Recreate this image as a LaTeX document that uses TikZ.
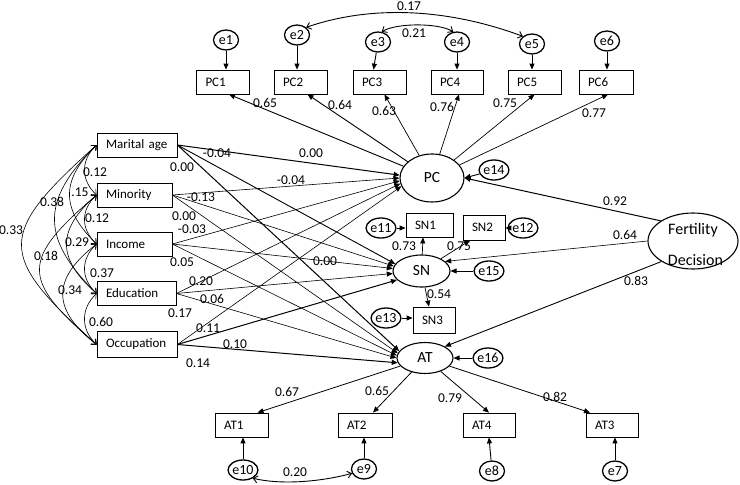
\documentclass[tikz,border=0pt]{standalone}
\usepackage{fontspec}
\setmainfont{Carlito}
\usetikzlibrary{arrows.meta,shapes.geometric,calc}
\begin{document}
\begin{tikzpicture}[x=1pt,y=-1pt,
  obs/.style={draw,line width=0.8pt,rectangle,minimum height=24pt,inner xsep=9pt,inner ysep=0pt,align=left,font=\fontsize{13}{15}\selectfont},
  lat/.style={draw,line width=1.1pt,ellipse,inner sep=0pt,font=\fontsize{15.5}{18}\selectfont},
  err/.style={draw,line width=1.3pt,ellipse,minimum width=25pt,minimum height=20pt,inner sep=0pt,font=\fontsize{14}{16}\selectfont},
  lbl/.style={inner sep=0pt,font=\fontsize{13.5}{15}\selectfont},
  path/.style={line width=0.6pt,-{Triangle[length=6pt,width=5pt]}},
  strong/.style={line width=1.0pt},
  cov/.style={line width=0.6pt,{Straight Barb[length=4pt,width=7pt]}-{Straight Barb[length=4pt,width=7pt]}},
]
\useasboundingbox (0,0) rectangle (740,485);

% exogenous boxes
\node[obs,text width=62pt] (ma)  at (137,145) {Marital age};
\node[obs,text width=57pt] (mi)  at (134.5,195) {Minority};
\node[obs,text width=57pt] (inc) at (134.5,244) {Income};
\node[obs,text width=61pt] (edu) at (136.5,293.5) {Education};
\node[obs,text width=62pt,minimum height=26pt] (occ) at (137,344.5) {Occupation};

% latent
\node[lat,minimum width=64pt,minimum height=48pt] (pc) at (432,178) {PC};
\node[lat,minimum width=57pt,minimum height=32pt] (sn) at (421.5,271) {SN};
\node[lat,minimum width=56pt,minimum height=31pt] (at) at (425,358) {AT};
\node[lat,minimum width=90pt,minimum height=56pt] (fd) at (693,241) {};
\node[anchor=base,inner sep=0pt,font=\fontsize{16}{18}\selectfont] (fdt1) at (693,234) {Fertility};
\node[anchor=base,inner sep=0pt,font=\fontsize{16}{18}\selectfont] (fdt2) at (695.5,265) {Decision};

% PC indicators
\node[obs,text width=35pt] (pc1) at (223,82) {PC1};
\node[obs,text width=35pt] (pc2) at (300.5,82) {PC2};
\node[obs,text width=35pt] (pc3) at (379.5,82) {PC3};
\node[obs,text width=34pt] (pc4) at (457,82) {PC4};
\node[obs,text width=35pt] (pc5) at (534.5,82) {PC5};
\node[obs,text width=36pt] (pc6) at (606,82) {PC6};

% SN indicators
\node[obs,text width=29pt] (sn1) at (429.5,225) {SN1};
\node[obs,text width=24pt,minimum height=25pt] (sn2) at (484,227.5) {SN2};
\node[obs,text width=24pt,minimum height=26pt] (sn3) at (434,320) {SN3};

% AT indicators
\node[obs,text width=35pt] (at1) at (241.5,425) {AT1};
\node[obs,text width=36pt] (at2) at (365,425) {AT2};
\node[obs,text width=34pt] (at4) at (489,425) {AT4};
\node[obs,text width=34pt] (at3) at (612,425) {AT3};

% errors
\node[err] (e1) at (226,40) {e1};
\node[err] (e2) at (297,35) {e2};
\node[err] (e3) at (378,42) {e3};
\node[err] (e4) at (457,42) {e4};
\node[err] (e5) at (532,44) {e5};
\node[err] (e6) at (607,41) {e6};
\node[err] (e14) at (494,170) {e14};
\node[err] (e11) at (381,228) {e11};
\node[err] (e12) at (523,228) {e12};
\node[err] (e15) at (489,271) {e15};
\node[err] (e13) at (386,318) {e13};
\node[err] (e16) at (488,358) {e16};
\node[err] (e10) at (243,470) {e10};
\node[err] (e9) at (364,469) {e9};
\node[err] (e8) at (492,471) {e8};
\node[err] (e7) at (615,471) {e7};

% error arrows
\draw[path,line width=0.9pt] (e1) -- (e1 |- pc1.north);
\draw[path,line width=0.9pt] (e2) -- (e2 |- pc2.north);
\draw[path,line width=0.9pt] (e3) -- ([xshift=-6pt]pc3.north);
\draw[path,line width=0.9pt] (e4) -- (e4 |- pc4.north);
\draw[path,line width=0.9pt] (e5) -- (e5 |- pc5.north);
\draw[path,line width=0.9pt] (e6) -- (e6 |- pc6.north);
\draw[path,line width=0.9pt] (e14) -- (pc.east);
\draw[path,line width=0.9pt] (e11) -- (e11 -| sn1.west);
\draw[path,line width=0.9pt] (e12) -- (e12 -| sn2.east);
\draw[path,line width=0.9pt] (e15) -- (sn);
\draw[path,line width=0.9pt] (e13) -- (e13 -| sn3.west);
\draw[path,line width=0.9pt] (e16) -- (at);
\draw[path,line width=0.9pt] (e10) -- (e10 |- at1.south);
\draw[path,line width=0.9pt] (e9) -- (e9 |- at2.south);
\draw[path,line width=0.9pt] (e8) -- (at4.south);
\draw[path,line width=0.9pt] (e7) -- (e7 |- at3.south);

% error covariances
\draw[cov,line width=0.9pt] (e2.40) .. controls +(70,-24) and +(-70,-26) .. (e5.140);
\draw[cov,line width=0.9pt] (e3.70) .. controls +(15,-9) and +(-15,-9) .. (e4.110);
\draw[cov,line width=0.9pt] (e10.-40) .. controls +(30,7) and +(-30,8) .. (e9.-160);

% loadings
\draw[path,line width=0.9pt] (pc) -- ([xshift=6pt]pc1.south);
\draw[path,line width=0.9pt] (pc) -- ([xshift=7pt]pc2.south);
\draw[path,line width=0.7pt] (pc) -- ([xshift=5pt]pc3.south);
\draw[path,line width=0.7pt] (pc) -- ([xshift=2pt]pc4.south);
\draw[path,line width=0.7pt] (pc) -- (pc5.south);
\draw[path,line width=0.7pt] (pc) -- ([xshift=2pt]pc6.south);
\draw[path,line width=0.7pt] (sn) -- ([xshift=-6.5pt]sn1.south);
\draw[path,line width=0.7pt] (sn) -- ([xshift=-14pt]sn2.south);
\draw[path,line width=0.7pt] (sn) -- ([xshift=-5pt]sn3.north);
\draw[path,line width=0.8pt] (at) -- ([xshift=16pt]at1.north);
\draw[path,line width=0.8pt] (at) -- ([xshift=8pt]at2.north);
\draw[path,line width=0.8pt] (at) -- (at4.north);
\draw[path,line width=0.8pt] (at) -- ([xshift=-22pt]at3.north);

% fertility decision
\draw[path,strong] (fd.148) -- (pc.east);
\draw[path] (fd.west) -- (sn.22);
\draw[path,line width=0.9pt] (fd.213) -- (at.30);

% structural paths
\draw[path,strong] (ma.east) -- (pc.175);
\draw[path,line width=0.9pt] (ma.east) -- (sn.165);
\draw[path,strong] (ma.east) -- (at.165);
\draw[path] (mi.east) -- (pc.180);
\draw[path] (mi.east) -- (sn.170);
\draw[path] (mi.east) -- (at.170);
\draw[path] (inc.east) -- (pc.185);
\draw[path] (inc.east) -- (sn.175);
\draw[path] (inc.east) -- (at.175);
\draw[path] (edu.east) -- (pc.190);
\draw[path] (edu.east) -- (sn.185);
\draw[path] (edu.east) -- (at.180);
\draw[path] (occ.east) -- (pc.195);
\draw[path,strong] (occ.east) -- (sn.200);
\draw[path,strong] (occ.east) -- (at.190);

% exogenous covariances
\draw[cov] (ma.west) .. controls +(-16,15) and +(-16,-15) .. (mi.west);
\draw[cov] (mi.west) .. controls +(-16,15) and +(-16,-15) .. (inc.west);
\draw[cov] (inc.west) .. controls +(-16,15) and +(-16,-15) .. (edu.west);
\draw[cov] (edu.west) .. controls +(-16,15) and +(-16,-15) .. (occ.west);
\draw[cov] (ma.west) .. controls +(-36,35) and +(-36,-35) .. (inc.west);
\draw[cov] (mi.west) .. controls +(-40,35) and +(-40,-35) .. (edu.west);
\draw[cov] (inc.west) .. controls +(-45,35) and +(-45,-35) .. (occ.west);
\draw[cov] (ma.west) .. controls +(-56,55) and +(-56,-55) .. (edu.west);
\draw[cov] (mi.west) .. controls +(-76,65) and +(-76,-65) .. (occ.west);
\draw[cov] (ma.west) .. controls +(-100,90) and +(-100,-90) .. (occ.west);

% labels
\node[lbl] (l1) at (409,6) {0.17};
\node[lbl] (l2) at (414,33) {0.21};
\node[lbl] (l3) at (265,103) {0.65};
\node[lbl] (l4) at (340,105) {0.64};
\node[lbl] (l5) at (384,111) {0.63};
\node[lbl] (l6) at (442,107) {0.76};
\node[lbl] (l7) at (505,103) {0.75};
\node[lbl] (l8) at (594,113) {0.77};
\node[lbl] (l9) at (615,201) {0.92};
\node[lbl] (l10) at (625,235) {0.64};
\node[lbl] (l11) at (636,281) {0.83};
\node[lbl] (l12) at (404,246) {0.73};
\node[lbl] (l13) at (459,246) {0.75};
\node[lbl] (l14) at (439,294) {0.54};
\node[lbl] (l15) at (287,392) {0.67};
\node[lbl] (l16) at (377,391) {0.65};
\node[lbl] (l17) at (450,398) {0.79};
\node[lbl] (l18) at (555,397) {0.82};
\node[lbl] (l19) at (295,472) {0.20};
\node[lbl] (l20) at (198,363) {0.14};
\node[lbl] (l21) at (235,344) {0.10};
\node[lbl] (l22) at (208,328) {0.11};
\node[lbl] (l23) at (180,313) {0.17};
\node[lbl] (l24) at (212,299) {0.06};
\node[lbl] (l25) at (201,281) {0.20};
\node[lbl] (l26) at (182,262) {0.05};
\node[lbl] (l27) at (325,261) {0.00};
\node[lbl] (l28) at (192,229) {-0.03};
\node[lbl] (l29) at (184,216) {0.00};
\node[lbl] (l30) at (201,197) {-0.13};
\node[lbl] (l31) at (291,180) {-0.04};
\node[lbl] (l32) at (311,153) {0.00};
\node[lbl] (l33) at (217,153) {-0.04};
\node[lbl] (l34) at (182,167) {0.00};
\node[lbl] (l35) at (95,172) {0.12};
\node[lbl] (l36) at (80,192) {.15};
\node[lbl] (l37) at (52,202) {0.38};
\node[lbl] (l38) at (11,230) {0.33};
\node[lbl] (l39) at (97,218) {0.12};
\node[lbl] (l40) at (77,242) {0.29};
\node[lbl] (l41) at (46,256) {0.18};
\node[lbl] (l42) at (102,273) {0.37};
\node[lbl] (l43) at (70,290) {0.34};
\node[lbl] (l44) at (101,322) {0.60};
\end{tikzpicture}
\end{document}
